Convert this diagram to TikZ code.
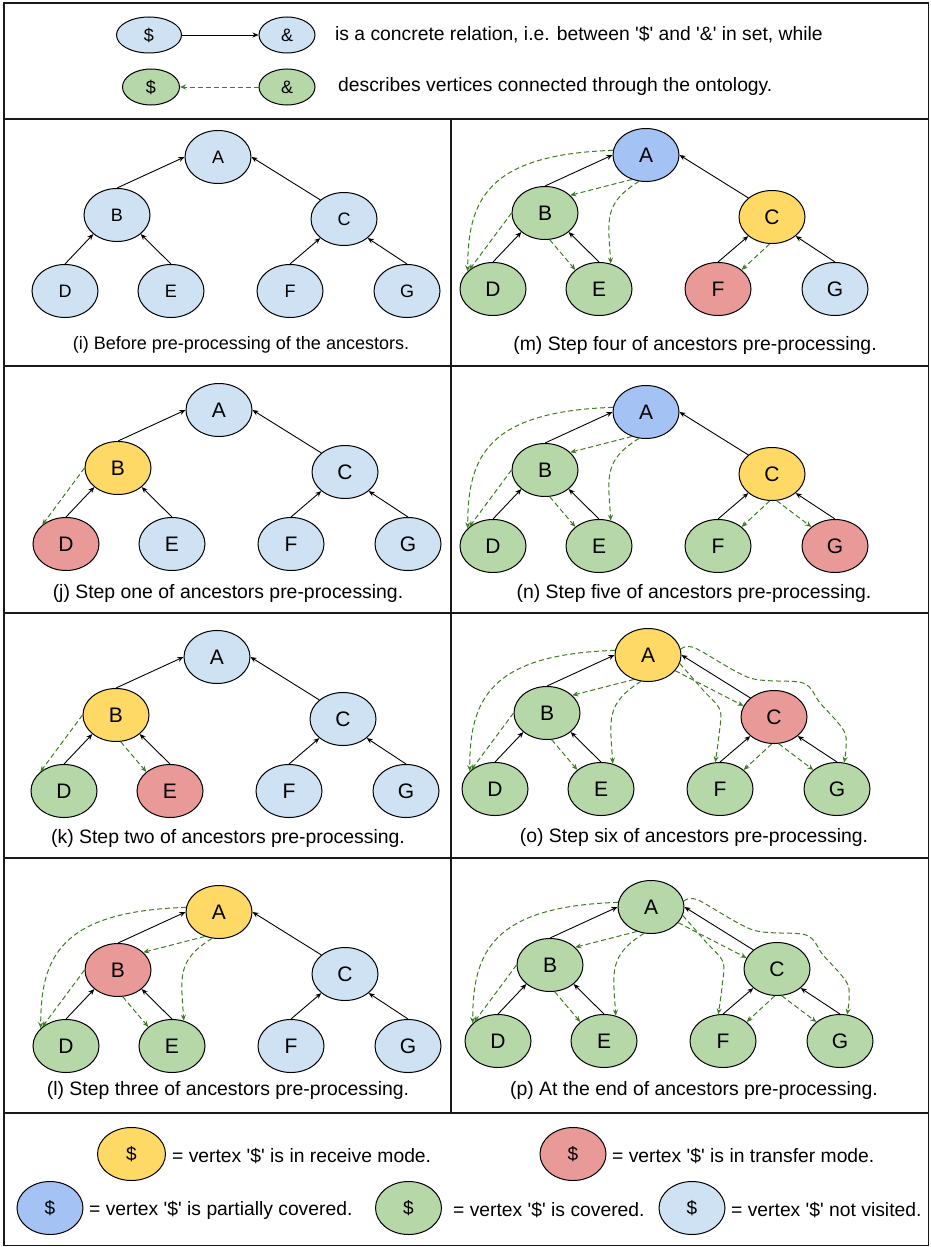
\documentclass[tikz,border=0pt]{standalone}
\usepackage{fontspec}
\setmainfont{Liberation Sans}
\usetikzlibrary{shapes.geometric,arrows.meta,calc}

\definecolor{nv}{HTML}{CFE2F3}   % not visited
\definecolor{rc}{HTML}{FFD966}   % receive mode
\definecolor{tr}{HTML}{EA9999}   % transfer mode
\definecolor{cv}{HTML}{B6D7A8}   % covered
\definecolor{pc}{HTML}{A4C2F4}   % partially covered
\definecolor{ontog}{RGB}{62,125,36}

\newcommand{\sq}{\textquotesingle}

\tikzset{
  vtx/.style={ellipse, draw=black, line width=1pt, minimum width=66pt,
    minimum height=53pt, inner sep=0pt, font=\fontsize{21}{24}\selectfont},
  keyv/.style={vtx, font=\fontsize{19}{22}\selectfont},
  hdrv/.style={ellipse, draw=black, line width=1pt, minimum width=#1,
    minimum height=36pt, inner sep=0pt, font=\fontsize{18}{21}\selectfont},
  rel/.style={-{Stealth[length=6pt,width=5pt]}, line width=0.9pt},
  onto/.style={-{Stealth[length=6pt,width=5pt]}, draw=ontog, line width=1pt,
    dash pattern=on 5pt off 3pt},
  frame/.style={line width=1.6pt, draw=black!90},
  caption/.style={font=\fontsize{19.4}{22}\selectfont},
  note/.style={anchor=west, inner sep=0pt, font=\fontsize{19.3}{22}\selectfont}
}

% one tree: #1 prefix, #2 position of A, #3..#9 fills of A..G
\newcommand{\treepanel}[9]{%
  \begin{scope}[shift={#2}]
    \node[vtx,fill=#3] (#1A) at (0,0) {A};
    \node[vtx,fill=#4] (#1B) at (-101,58) {B};
    \node[vtx,fill=#5] (#1C) at (126,62) {C};
    \node[vtx,fill=#6] (#1D) at (-153,134) {D};
    \node[vtx,fill=#7] (#1E) at (-47,134) {E};
    \node[vtx,fill=#8] (#1F) at (72,134) {F};
    \node[vtx,fill=#9] (#1G) at (189,134) {G};
  \end{scope}
  \draw[rel] (#1B.north) -- (#1A.west);
  \draw[rel] (#1C.north west) -- (#1A.east);
  \draw[rel] (#1D.north) -- (#1B.south west);
  \draw[rel] (#1E.north) -- (#1B.south east);
  \draw[rel] (#1F.north) -- (#1C.south west);
  \draw[rel] (#1G.north) -- (#1C.south east);
}

% ontology links of the left subtree
\newcommand{\ontoleft}[1]{%
  \draw[onto] (#1A.240) -- (#1B.35);
  \draw[onto] (#1A.172) .. controls +(-127,4) and +(0,-70) .. (#1D.145);
  \draw[onto] (#1A.255) .. controls +(-35,22) and +(-3,-45) .. (#1E.65);
  \draw[onto] (#1B.west) -- (#1D.north west);
  \draw[onto] (#1B.280) -- (#1E.north west);
}

% ontology links from A into the right subtree
\newcommand{\ontoright}[1]{%
  \draw[onto] (#1A.330) -- (#1C.160);
  \draw[onto] plot[smooth, tension=0.5] coordinates {(#1A.345)
    ($(#1A)+(55,35)$) ($(#1A)+(72,55)$) ($(#1A)+(71,80)$) (#1F.100)};
  \draw[onto] plot[smooth, tension=0.5] coordinates {(#1A.10)
    ($(#1A)+(47,-7)$) ($(#1A)+(102,23)$) ($(#1A)+(155,28)$)
    ($(#1A)+(172,48)$) ($(#1A)+(197,78)$) (#1G.75)};
}

\begin{document}
\begin{tikzpicture}[x=1pt, y=-1pt]
  \useasboundingbox (0,0) rectangle (930,1247);
  \fill[white] (0,0) rectangle (930,1247);

  % frame and panel grid
  \draw[frame] (4,3) rectangle (928.5,1245.5);
  \foreach \yy in {119,366,613,858,1113} \draw[frame] (4,\yy) -- (928.5,\yy);
  \draw[frame] (451,119) -- (451,1113);

  % header key
  \node[hdrv=65pt, fill=nv] (h1s) at (149,35) {\$};
  \node[hdrv=56pt, fill=nv] (h1a) at (287,35) {\&};
  \draw[rel] (h1s) -- (h1a);
  \node[note] (h1t) at (335,35) {is a concrete relation, i.e. between \sq\$\sq{} and \sq\&\sq{} in set, while};
  \node[hdrv=57pt, fill=cv] (h2s) at (151,87) {\$};
  \node[hdrv=56pt, fill=cv] (h2a) at (287,87) {\&};
  \draw[onto] (h2a) -- (h2s);
  \node[note] (h2t) at (338,87) {describes vertices connected through the ontology.};

  % (i)
  \begin{scope}[vtx/.append style={font=\fontsize{18}{21}\selectfont}]
    \treepanel{i}{(218,157)}{nv}{nv}{nv}{nv}{nv}{nv}{nv}
  \end{scope}
  \node[caption, font=\fontsize{18}{21}\selectfont] (ci) at (241,345) {(i) Before pre-processing of the ancestors.};

  % (j)
  \treepanel{j}{(219,410)}{nv}{rc}{nv}{tr}{nv}{nv}{nv}
  \draw[onto] (jB.west) -- (jD.north west);
  \node[caption] (cj) at (228,593) {(j) Step one of ancestors pre-processing.};

  % (k)
  \treepanel{k}{(217,657)}{nv}{rc}{nv}{cv}{tr}{nv}{nv}
  \draw[onto] (kB.west) -- (kD.north west);
  \draw[onto] (kB.280) -- (kE.north west);
  \node[caption] (ck) at (228,838) {(k) Step two of ancestors pre-processing.};

  % (l)
  \treepanel{l}{(219,912)}{rc}{tr}{nv}{cv}{cv}{nv}{nv}
  \ontoleft{l}
  \node[caption] (cl) at (228,1090) {(l) Step three of ancestors pre-processing.};

  % (m)
  \treepanel{m}{(646,155)}{pc}{cv}{rc}{cv}{cv}{tr}{nv}
  \ontoleft{m}
  \draw[onto] (mC.265) -- (mF.north east);
  \node[caption] (cm) at (695,345) {(m) Step four of ancestors pre-processing.};

  % (n)
  \treepanel{n}{(646,412)}{pc}{cv}{rc}{cv}{cv}{cv}{tr}
  \ontoleft{n}
  \draw[onto] (nC.265) -- (nF.north east);
  \draw[onto] (nC.280) -- (nG.north west);
  \node[caption] (cn) at (694,593) {(n) Step five of ancestors pre-processing.};

  % (o)
  \treepanel{o}{(648,655)}{rc}{cv}{tr}{cv}{cv}{cv}{cv}
  \ontoleft{o}
  \ontoright{o}
  \draw[onto] (oC.265) -- (oF.north east);
  \draw[onto] (oC.280) -- (oG.north west);
  \node[caption] (co) at (694,837) {(o) Step six of ancestors pre-processing.};

  % (p)
  \treepanel{p}{(651,907)}{cv}{cv}{cv}{cv}{cv}{cv}{cv}
  \ontoleft{p}
  \ontoright{p}
  \draw[onto] (pC.265) -- (pF.north east);
  \draw[onto] (pC.280) -- (pG.north west);
  \node[caption] (cp) at (694,1090) {(p) At the end of ancestors pre-processing.};

  % colour key
  \node[keyv, fill=rc, minimum width=68pt] (k1) at (131.5,1154) {\$};
  \node[note] (k1t) at (172,1156) {= vertex \sq\$\sq{} is in receive mode.};
  \node[keyv, fill=tr] (k2) at (573,1154) {\$};
  \node[note] (k2t) at (612,1156) {= vertex \sq\$\sq{} is in transfer mode.};
  \node[keyv, fill=pc] (k3) at (50,1208) {\$};
  \node[note] (k3t) at (89,1210) {= vertex \sq\$\sq{} is partially covered.};
  \node[keyv, fill=cv] (k4) at (408.5,1208) {\$};
  \node[note] (k4t) at (453,1210) {= vertex \sq\$\sq{} is covered.};
  \node[keyv, fill=nv] (k5) at (692,1208) {\$};
  \node[note] (k5t) at (731,1210) {= vertex \sq\$\sq{} not visited.};
\end{tikzpicture}
\end{document}
